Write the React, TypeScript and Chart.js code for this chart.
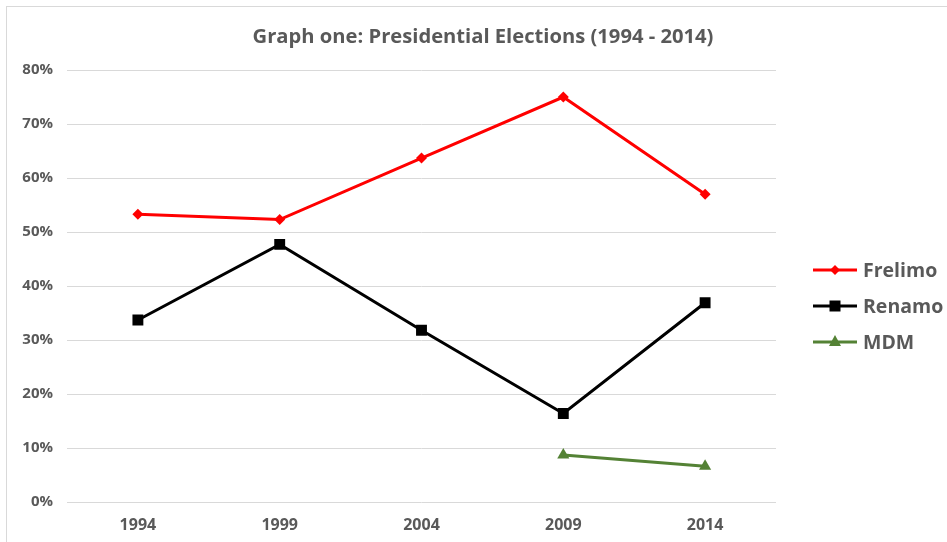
import React, { useEffect, useRef } from "react";
import { Chart, registerables } from "chart.js";

Chart.register(...registerables);

const title = "Graph one: Presidential Elections (1994 - 2014)";
const years = ["1994", "1999", "2004", "2009", "2014"];
const frelimo = [53.3, 52.3, 63.7, 75.0, 57.0];
const renamo = [33.7, 47.7, 31.8, 16.4, 36.9];
const mdm = [null, null, null, 8.7, 6.6];
const seriesNames = ["Frelimo", "Renamo", "MDM"];
const yTicks = [0, 10, 20, 30, 40, 50, 60, 70, 80];

const FONT = "'Open Sans', 'DejaVu Sans', sans-serif";
const TEXT = "#595959";

const overlay = {
  id: "overlay",
  afterDraw(chart: any) {
    const ctx = chart.ctx;
    ctx.save();
    // title, fitted to the reference's width
    ctx.fillStyle = TEXT;
    let size = 19;
    ctx.font = `bold ${size}px ${FONT}`;
    const w = ctx.measureText(title).width;
    size = Math.min(22, (size * 461) / w);
    ctx.font = `bold ${size}px ${FONT}`;
    ctx.textAlign = "center";
    ctx.textBaseline = "middle";
    ctx.fillText(title, 483, 37);
    // legend
    const x0 = 813;
    const lineLen = 44;
    const yStart = 270;
    const gap = 36;
    chart.data.datasets.forEach((ds: any, i: number) => {
      const y = yStart + i * gap;
      ctx.strokeStyle = ds.borderColor;
      ctx.lineWidth = ds.borderWidth;
      ctx.beginPath();
      ctx.moveTo(x0, y);
      ctx.lineTo(x0 + lineLen, y);
      ctx.stroke();
      ctx.fillStyle = ds.pointBackgroundColor;
      const cx = x0 + lineLen / 2;
      ctx.beginPath();
      if (ds.pointStyle === "rectRot") {
        ctx.moveTo(cx, y - 5);
        ctx.lineTo(cx + 5, y);
        ctx.lineTo(cx, y + 5);
        ctx.lineTo(cx - 5, y);
      } else if (ds.pointStyle === "rect") {
        ctx.rect(cx - 5.5, y - 5.5, 11, 11);
      } else {
        ctx.moveTo(cx, y - 7);
        ctx.lineTo(cx + 6, y + 4);
        ctx.lineTo(cx - 6, y + 4);
      }
      ctx.closePath();
      ctx.fill();
      ctx.fillStyle = TEXT;
      ctx.font = `bold 19.5px ${FONT}`;
      ctx.textAlign = "left";
      ctx.textBaseline = "middle";
      ctx.fillText(ds.label, x0 + lineLen + 6, y + 1);
    });
    ctx.restore();
  },
};

export default function App() {
  const ref = useRef<HTMLCanvasElement>(null);
  useEffect(() => {
    document.body.style.margin = "0";
    const chart = new Chart(ref.current!, {
      type: "line",
      data: {
        labels: years,
        datasets: [
          {
            label: seriesNames[0],
            data: frelimo,
            borderColor: "#ff0000",
            backgroundColor: "#ff0000",
            pointBackgroundColor: "#ff0000",
            borderWidth: 3,
            pointStyle: "rectRot",
            pointRadius: 5.5,
            pointBorderWidth: 0,
          },
          {
            label: seriesNames[1],
            data: renamo,
            borderColor: "#000000",
            backgroundColor: "#000000",
            pointBackgroundColor: "#000000",
            borderWidth: 3,
            pointStyle: "rect",
            pointRadius: 7.7,
            pointBorderWidth: 0,
          },
          {
            label: seriesNames[2],
            data: mdm,
            borderColor: "#548235",
            backgroundColor: "#548235",
            pointBackgroundColor: "#548235",
            borderWidth: 3,
            pointStyle: "triangle",
            pointRadius: 7,
            pointBorderWidth: 0,
          },
        ],
      },
      options: {
        animation: false,
        responsive: false,
        maintainAspectRatio: false,
        layout: { padding: { left: 0, right: 171, top: 70, bottom: 0 } },
        plugins: {
          legend: { display: false },
          title: { display: false },
          tooltip: { enabled: false },
        },
        scales: {
          x: {
            offset: true,
            grid: { display: false, drawTicks: false },
            border: { display: false },
            ticks: {
              color: TEXT,
              font: { family: FONT, size: 16, weight: "bold" },
              padding: 14,
            },
            afterFit(axis: any) {
              axis.height = 40;
            },
          },
          y: {
            min: 0,
            max: 80,
            afterBuildTicks(axis: any) {
              axis.ticks = yTicks.map((v) => ({ value: v }));
            },
            grid: { color: "#d9d9d9", lineWidth: 1, drawTicks: false },
            border: { display: false },
            ticks: {
              color: TEXT,
              font: { family: FONT, size: 15, weight: "bold" },
              padding: 14,
              callback: (v: any) => `${v}%`,
            },
            afterFit(axis: any) {
              axis.width = 67;
            },
          },
        },
      },
      plugins: [overlay],
    });
    return () => chart.destroy();
  }, []);
  return (
    <div style={{ position: "absolute", left: 0, top: 0, width: 947, height: 542, overflow: "hidden", background: "#fff" }}>
      <div style={{ position: "absolute", left: 6, top: 6, width: 1200, height: 1200, border: "1px solid #d9d9d9" }} />
      <canvas ref={ref} width={947} height={542} style={{ position: "absolute", left: 0, top: 0 }} />
    </div>
  );
}
